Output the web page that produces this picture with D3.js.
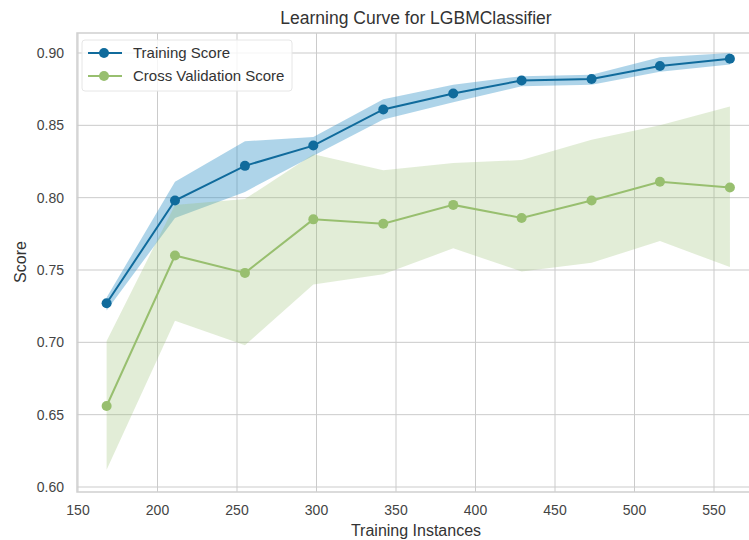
<!DOCTYPE html>
<html>
<head>
<meta charset="utf-8">
<script src="https://cdn.jsdelivr.net/npm/d3@7"></script>
<style>
  body { margin: 0; background: #fff; }
  text { font-family: "Liberation Sans", Arial, sans-serif; }
</style>
</head>
<body>
<script>
const WIDTH = 749;
const HEIGHT = 540;

// training set sizes
const sizes = [168, 211, 255, 298, 342, 386, 429, 473, 516, 560];

const trainMean = [0.727, 0.798, 0.822, 0.836, 0.861, 0.872, 0.881, 0.882, 0.891, 0.896];
const trainLow  = [0.722, 0.786, 0.804, 0.829, 0.854, 0.866, 0.877, 0.878, 0.887, 0.892];
const trainHigh = [0.731, 0.811, 0.839, 0.842, 0.868, 0.878, 0.884, 0.885, 0.897, 0.900];

const cvMean = [0.656, 0.760, 0.748, 0.785, 0.782, 0.795, 0.786, 0.798, 0.811, 0.807];
const cvLow  = [0.612, 0.715, 0.698, 0.740, 0.747, 0.765, 0.749, 0.755, 0.770, 0.752];
const cvHigh = [0.701, 0.795, 0.799, 0.830, 0.819, 0.824, 0.826, 0.840, 0.850, 0.863];

const xTicks = [150, 200, 250, 300, 350, 400, 450, 500, 550];
const yTicks = [0.60, 0.65, 0.70, 0.75, 0.80, 0.85, 0.90];

const BLUE = '#106b9c';
const BLUE_BAND = '#2a8fc6';
const GREEN = '#98bf6f';

const frame = { left: 77, top: 33, right: 752, bottom: 492 };

const svg = d3.select('body').append('svg')
    .attr('width', WIDTH)
    .attr('height', HEIGHT);

const x = d3.scaleLinear().domain([150, 550]).range([78, 714]);
const y = d3.scaleLinear().domain([0.60, 0.90]).range([487, 53]);

// grid
const grid = svg.append('g');
grid.selectAll('.vg').data(xTicks).join('line')
    .attr('x1', d => x(d)).attr('x2', d => x(d))
    .attr('y1', frame.top).attr('y2', frame.bottom)
    .attr('stroke', '#cbcbcb').attr('stroke-width', 1);
grid.selectAll('.hg').data(yTicks).join('line')
    .attr('x1', frame.left).attr('x2', frame.right)
    .attr('y1', d => y(d)).attr('y2', d => y(d))
    .attr('stroke', '#cbcbcb').attr('stroke-width', 1);

const area = (lo, hi) => d3.area()
    .x((d, i) => x(sizes[i]))
    .y0((d, i) => y(lo[i]))
    .y1((d, i) => y(hi[i]));

const line = vals => d3.line()
    .x((d, i) => x(sizes[i]))
    .y((d, i) => y(vals[i]));

const addBand = (lo, hi, color, opacity) => {
    svg.append('path')
        .datum(sizes)
        .attr('d', area(lo, hi))
        .attr('fill', color)
        .attr('fill-opacity', opacity);
};

const addLine = (mean, color) => {
    svg.append('path')
        .datum(sizes)
        .attr('d', line(mean))
        .attr('fill', 'none')
        .attr('stroke', color)
        .attr('stroke-width', 2);
    svg.append('g').selectAll('circle').data(sizes).join('circle')
        .attr('cx', d => x(d))
        .attr('cy', (d, i) => y(mean[i]))
        .attr('r', 5)
        .attr('fill', color);
};

addBand(trainLow, trainHigh, BLUE_BAND, 0.38);
addBand(cvLow, cvHigh, GREEN, 0.28);
addLine(trainMean, BLUE);
addLine(cvMean, GREEN);

// frame
svg.append('rect')
    .attr('x', frame.left).attr('y', frame.top)
    .attr('width', frame.right - frame.left)
    .attr('height', frame.bottom - frame.top)
    .attr('fill', 'none')
    .attr('stroke', '#cfcfcf')
    .attr('stroke-width', 1.5);

// tick labels
svg.append('g').selectAll('text').data(xTicks).join('text')
    .attr('x', d => x(d))
    .attr('y', 515)
    .attr('text-anchor', 'middle')
    .attr('font-size', 14)
    .attr('fill', '#444')
    .text(d => d);

svg.append('g').selectAll('text').data(yTicks).join('text')
    .attr('x', 64)
    .attr('y', d => y(d) + 5)
    .attr('text-anchor', 'end')
    .attr('font-size', 14)
    .attr('fill', '#444')
    .text(d3.format('.2f'));

// labels
svg.append('text')
    .attr('x', 416).attr('y', 24)
    .attr('text-anchor', 'middle')
    .attr('font-size', 17.5)
    .attr('fill', '#333')
    .text('Learning Curve for LGBMClassifier');

svg.append('text')
    .attr('x', 416).attr('y', 536)
    .attr('text-anchor', 'middle')
    .attr('font-size', 16)
    .attr('fill', '#333')
    .text('Training Instances');

svg.append('text')
    .attr('transform', 'translate(26,262) rotate(-90)')
    .attr('text-anchor', 'middle')
    .attr('font-size', 16)
    .attr('fill', '#333')
    .text('Score');

// legend
const legendItems = [
    { label: 'Training Score', color: BLUE },
    { label: 'Cross Validation Score', color: GREEN }
];
const legend = svg.append('g').attr('transform', 'translate(82,40)');
legend.append('rect')
    .attr('width', 210).attr('height', 51)
    .attr('rx', 3)
    .attr('fill', '#fff').attr('fill-opacity', 0.8)
    .attr('stroke', '#e6e6e6');
const item = legend.selectAll('.item').data(legendItems).join('g')
    .attr('transform', (d, i) => `translate(0,${13 + i * 23})`);
item.append('line')
    .attr('x1', 6).attr('x2', 40)
    .attr('stroke', d => d.color).attr('stroke-width', 2);
item.append('circle')
    .attr('cx', 22).attr('r', 5)
    .attr('fill', d => d.color);
item.append('text')
    .attr('x', 51).attr('y', 5)
    .attr('font-size', 15)
    .attr('fill', '#333')
    .text(d => d.label);
</script>
</body>
</html>
